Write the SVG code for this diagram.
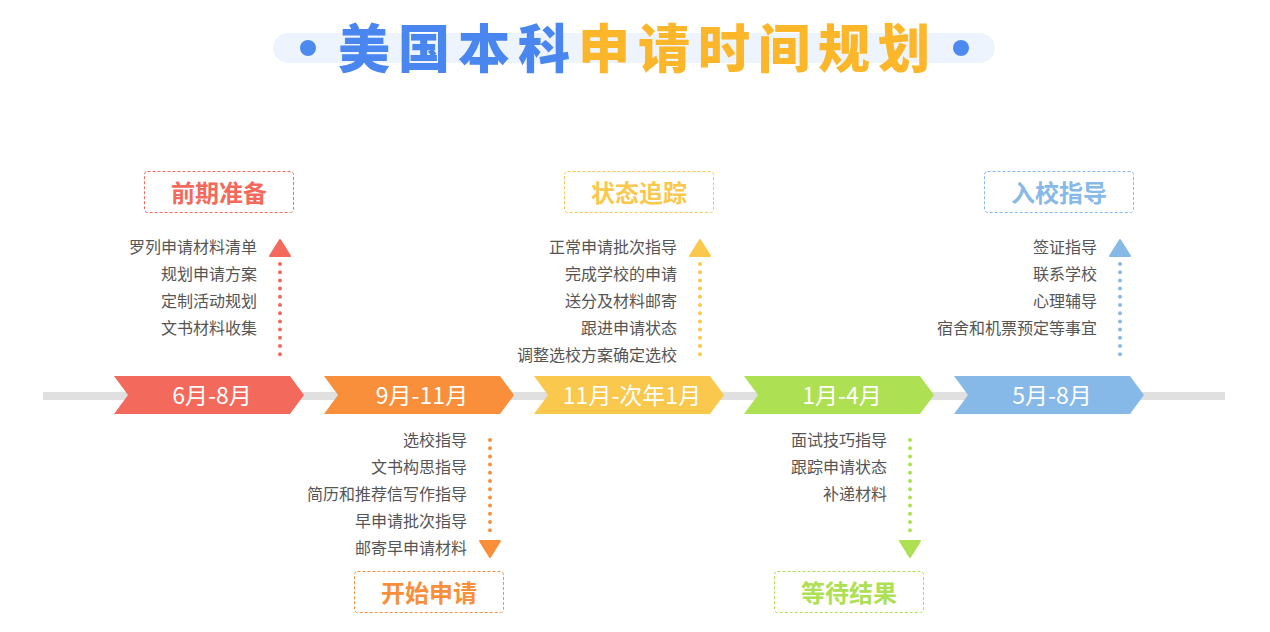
<svg xmlns="http://www.w3.org/2000/svg" width="1270" height="632" viewBox="0 0 1270 632">
<style>
text{font-family:"Microsoft YaHei","Noto Sans CJK SC","Noto Sans",sans-serif;dominant-baseline:central}
.item{font-size:16px;fill:#555;text-anchor:end}
.lab{font-size:23px;fill:#fff;text-anchor:middle}
.box{font-size:24px;font-weight:bold;text-anchor:middle}
.dash{fill:#fff;stroke-width:1;stroke-dasharray:3 2}
.dots{fill:none;stroke-width:4;stroke-linecap:round;stroke-dasharray:0 8.2}
</style>
<rect width="1270" height="632" fill="#fff"/>
<g id="title">
<rect x="273" y="33" width="722" height="30" rx="15" fill="#eef4fd"/>
<circle cx="308" cy="48" r="8" fill="#4d8af0"/>
<circle cx="961" cy="48" r="8" fill="#4d8af0"/>
<text x="338" y="45" style="font-size:52px;font-weight:900;letter-spacing:8px"><tspan fill="#4a86f0">美国本科</tspan><tspan fill="#fbb62a">申请时间规划</tspan></text>
</g>
<g id="connectors">
<rect x="43" y="392" width="1182" height="8" fill="#e0e0e0"/>
<line class="dots" x1="280" y1="264" x2="280" y2="357" stroke="#f36a5d"/>
<path d="M280 240 L290 256 L270 256 Z" fill="#f36a5d" stroke="#f36a5d" stroke-width="2" stroke-linejoin="round"/>
<line class="dots" x1="490" y1="440" x2="490" y2="535" stroke="#f98f3a"/>
<path d="M490 557 L500 541 L480 541 Z" fill="#f98f3a" stroke="#f98f3a" stroke-width="2" stroke-linejoin="round"/>
<line class="dots" x1="700" y1="264" x2="700" y2="357" stroke="#fac84c"/>
<path d="M700 240 L710 256 L690 256 Z" fill="#fac84c" stroke="#fac84c" stroke-width="2" stroke-linejoin="round"/>
<line class="dots" x1="910" y1="440" x2="910" y2="535" stroke="#ade052"/>
<path d="M910 557 L920 541 L900 541 Z" fill="#ade052" stroke="#ade052" stroke-width="2" stroke-linejoin="round"/>
<line class="dots" x1="1120" y1="264" x2="1120" y2="357" stroke="#87b9e8"/>
<path d="M1120 240 L1130 256 L1110 256 Z" fill="#87b9e8" stroke="#87b9e8" stroke-width="2" stroke-linejoin="round"/>
</g>
<g id="n1">
<path d="M114 376 H290 L304 395 L290 414 H114 L128 395 Z" fill="#f36a5d"/>
<text class="lab" x="212" y="394">6月-8月</text>
<rect class="dash" x="144.5" y="171.5" width="149" height="41" rx="3" stroke="#f36a5d"/>
<text class="box" x="219" y="191" fill="#f36a5d">前期准备</text>
<text class="item" x="257" y="246">罗列申请材料清单</text>
<text class="item" x="257" y="273">规划申请方案</text>
<text class="item" x="257" y="300">定制活动规划</text>
<text class="item" x="257" y="327">文书材料收集</text>
</g>
<g id="n2">
<path d="M324 376 H500 L514 395 L500 414 H324 L338 395 Z" fill="#f98f3a"/>
<text class="lab" x="422" y="394">9月-11月</text>
<rect class="dash" x="354.5" y="571.5" width="149" height="41" rx="3" stroke="#f98f3a"/>
<text class="box" x="429" y="591" fill="#f98f3a">开始申请</text>
<text class="item" x="467" y="439">选校指导</text>
<text class="item" x="467" y="466">文书构思指导</text>
<text class="item" x="467" y="493">简历和推荐信写作指导</text>
<text class="item" x="467" y="520">早申请批次指导</text>
<text class="item" x="467" y="547">邮寄早申请材料</text>
</g>
<g id="n3">
<path d="M534 376 H710 L724 395 L710 414 H534 L548 395 Z" fill="#fac84c"/>
<text class="lab" x="632" y="394">11月-次年1月</text>
<rect class="dash" x="564.5" y="171.5" width="149" height="41" rx="3" stroke="#fac84c"/>
<text class="box" x="639" y="191" fill="#fac84c">状态追踪</text>
<text class="item" x="677" y="246">正常申请批次指导</text>
<text class="item" x="677" y="273">完成学校的申请</text>
<text class="item" x="677" y="300">送分及材料邮寄</text>
<text class="item" x="677" y="327">跟进申请状态</text>
<text class="item" x="677" y="354">调整选校方案确定选校</text>
</g>
<g id="n4">
<path d="M744 376 H920 L934 395 L920 414 H744 L758 395 Z" fill="#ade052"/>
<text class="lab" x="842" y="394">1月-4月</text>
<rect class="dash" x="774.5" y="571.5" width="149" height="41" rx="3" stroke="#ade052"/>
<text class="box" x="849" y="591" fill="#ade052">等待结果</text>
<text class="item" x="887" y="439">面试技巧指导</text>
<text class="item" x="887" y="466">跟踪申请状态</text>
<text class="item" x="887" y="493">补递材料</text>
</g>
<g id="n5">
<path d="M954 376 H1130 L1144 395 L1130 414 H954 L968 395 Z" fill="#87b9e8"/>
<text class="lab" x="1052" y="394">5月-8月</text>
<rect class="dash" x="984.5" y="171.5" width="149" height="41" rx="3" stroke="#87b9e8"/>
<text class="box" x="1059" y="191" fill="#87b9e8">入校指导</text>
<text class="item" x="1097" y="246">签证指导</text>
<text class="item" x="1097" y="273">联系学校</text>
<text class="item" x="1097" y="300">心理辅导</text>
<text class="item" x="1097" y="327">宿舍和机票预定等事宜</text>
</g>
</svg>
